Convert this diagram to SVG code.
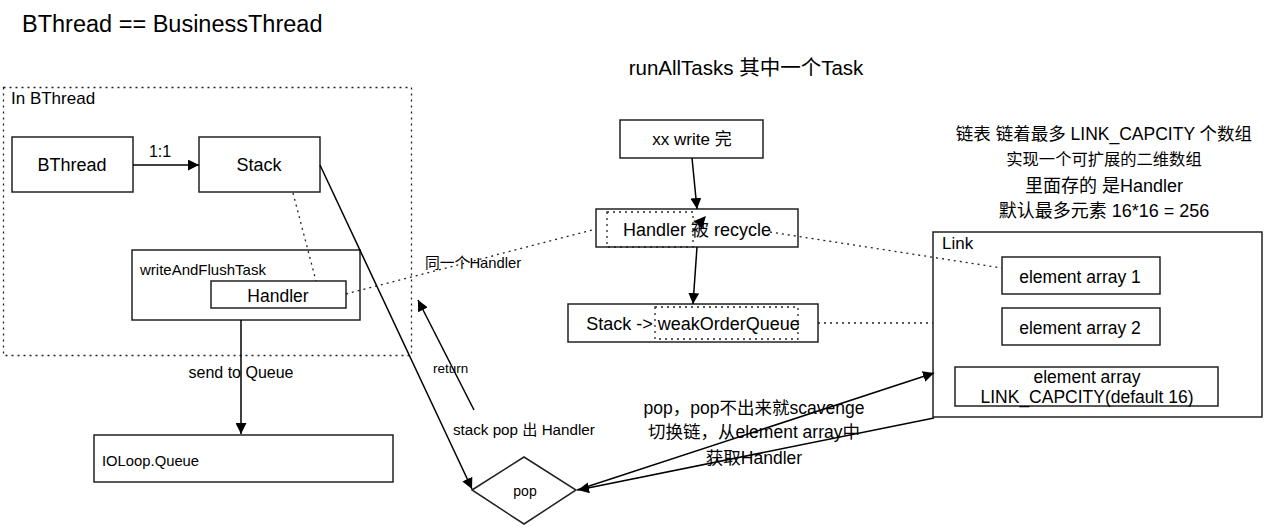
<svg xmlns="http://www.w3.org/2000/svg" width="1266" height="529" viewBox="0 0 1266 529">
<defs>
<style>
text{font-family:"Liberation Sans","Noto Sans CJK SC",sans-serif;fill:#000}
.box{fill:#fff;stroke:#222;stroke-width:1.5}
.dot{fill:none;stroke:#222;stroke-width:1.3;stroke-dasharray:2 4}
.ln{fill:none;stroke:#000;stroke-width:1.5}
.c{text-anchor:middle}
</style>
<marker id="ah" viewBox="0 0 10 10" refX="10" refY="5" markerWidth="11" markerHeight="11" markerUnits="userSpaceOnUse" orient="auto">
<path d="M0,0 L10,5 L0,10 z" fill="#000"/>
</marker>
</defs>
<rect width="1266" height="529" fill="#fff"/>
<text x="22" y="32" font-size="23.5">BThread == BusinessThread</text>
<text x="746" y="75" font-size="20.5" class="c">runAllTasks 其中一个Task</text>

<g id="inBThread">
<rect x="3.5" y="87.5" width="408" height="268" class="dot"/>
<text x="11" y="104" font-size="17">In BThread</text>
</g>
<g id="bthread">
<rect x="12" y="137" width="121" height="55" class="box"/>
<text x="72" y="171" font-size="18" class="c">BThread</text>
</g>
<g id="stack">
<rect x="199" y="137" width="121" height="55" class="box"/>
<text x="259" y="171" font-size="18" class="c">Stack</text>
</g>
<g id="writeAndFlushTask">
<rect x="132" y="250" width="228" height="70" class="box"/>
<text x="140" y="275" font-size="15">writeAndFlushTask</text>
</g>
<g id="handler">
<rect x="211" y="281" width="135" height="27" class="box"/>
<text x="278" y="302" font-size="17.5" class="c">Handler</text>
</g>
<g id="ioloop">
<rect x="94" y="435" width="299" height="47" class="box"/>
<text x="102" y="466" font-size="14.8">IOLoop.Queue</text>
</g>
<g id="pop">
<polygon points="472,490 524,457 576,490 524,524" class="box"/>
<text x="525" y="496" font-size="14" class="c">pop</text>
</g>
<g id="xxwrite">
<rect x="620" y="120" width="143" height="38" class="box"/>
<text x="692" y="145" font-size="17" class="c">xx write 完</text>
</g>
<g id="recycle">
<rect x="596" y="209" width="202" height="38" class="box"/>
<rect x="607" y="212" width="86" height="35" class="dot"/>
<text x="697" y="236" font-size="18" class="c">Handler 被 recycle</text>
<polygon points="706,216 694,221 702,229" fill="#000"/>
</g>
<g id="weakOrderQueue">
<rect x="568" y="304" width="250" height="38" class="box"/>
<rect x="655" y="307" width="143" height="32" class="dot"/>
<text x="693" y="330" font-size="18" class="c">Stack -&gt; weakOrderQueue</text>
</g>
<g id="linkNote">
<text x="1104" y="140" font-size="17.5" class="c">链表 链着最多 LINK_CAPCITY 个数组</text>
<text x="1104" y="165" font-size="16.3" class="c">实现一个可扩展的二维数组</text>
<text x="1104" y="192" font-size="18" class="c">里面存的 是Handler</text>
<text x="1104" y="217" font-size="18" class="c">默认最多元素 16*16 = 256</text>
</g>
<g id="link">
<rect x="933" y="232" width="329" height="185" class="box"/>
<text x="942" y="249" font-size="17">Link</text>
</g>
<g id="array1">
<rect x="1002" y="257" width="158" height="37" class="box"/>
<text x="1080" y="283" font-size="17.5" class="c">element array 1</text>
</g>
<g id="array2">
<rect x="1002" y="308" width="158" height="37" class="box"/>
<text x="1080" y="334" font-size="17.5" class="c">element array 2</text>
</g>
<g id="arrayN">
<rect x="955" y="367" width="263" height="39" class="box"/>
<text x="1087" y="383" font-size="17.5" class="c">element array</text>
<text x="1087" y="403" font-size="17.5" class="c">LINK_CAPCITY(default 16)</text>
</g>

<g id="connectors">
<line x1="133" y1="165" x2="199" y2="165" class="ln" marker-end="url(#ah)"/>
<text x="160" y="157" font-size="16" class="c">1:1</text>
<line x1="293" y1="193" x2="316" y2="281" class="dot"/>
<line x1="346" y1="294" x2="596" y2="229" class="dot"/>
<text x="425" y="268" font-size="14.8">同一个Handler</text>
<line x1="241" y1="320" x2="241" y2="434" class="ln" marker-end="url(#ah)"/>
<text x="241" y="378" font-size="16" class="c">send to Queue</text>
<line x1="320" y1="165" x2="472" y2="489" class="ln" marker-end="url(#ah)"/>
<line x1="474" y1="410" x2="418" y2="300" class="ln" marker-end="url(#ah)"/>
<text x="433" y="373" font-size="13.5">return</text>
<text x="453" y="435" font-size="15.2">stack pop 出 Handler</text>
<line x1="692" y1="158" x2="697" y2="209" class="ln" marker-end="url(#ah)"/>
<line x1="697" y1="247" x2="693" y2="304" class="ln" marker-end="url(#ah)"/>
<line x1="770" y1="232" x2="1002" y2="268" class="dot"/>
<line x1="818" y1="323" x2="933" y2="323" class="dot"/>
<line x1="577" y1="490" x2="934" y2="373" class="ln" marker-end="url(#ah)"/>
<line x1="934" y1="418" x2="578" y2="490" class="ln" marker-end="url(#ah)"/>
<text x="754" y="414" font-size="17.5" class="c">pop，pop不出来就scavenge</text>
<text x="754" y="438" font-size="17.5" class="c">切换链，从element array中</text>
<text x="754" y="464" font-size="17.5" class="c">获取Handler</text>
</g>
</svg>
